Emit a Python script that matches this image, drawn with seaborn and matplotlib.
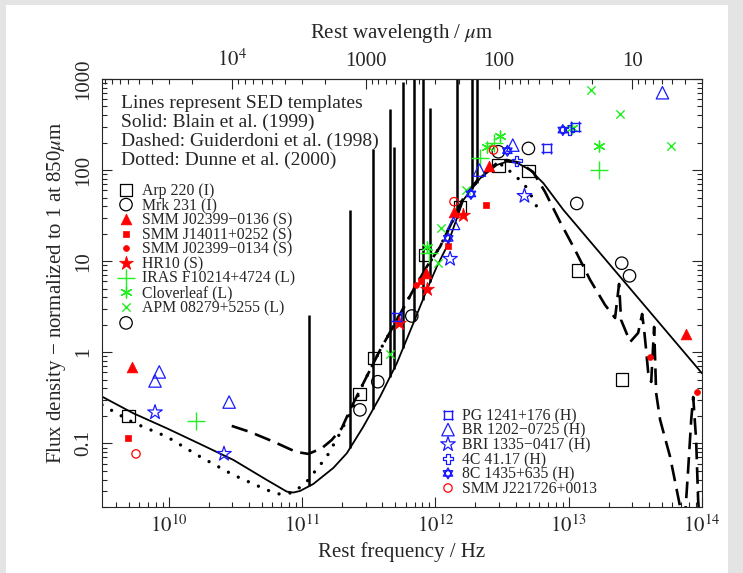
import numpy as np
import pandas as pd
import matplotlib
matplotlib.use("Agg")
import matplotlib.pyplot as plt
from matplotlib.path import Path
from matplotlib.patches import Rectangle
from matplotlib.ticker import FixedLocator, FuncFormatter, LogLocator, NullFormatter
import seaborn as sns

sns.set_style("ticks")
plt.rcParams["font.family"] = ["Liberation Serif", "DejaVu Serif"]
plt.rcParams["mathtext.fontset"] = "stix"

# ---------------------------------------------------------------- templates
# log10(rest frequency / Hz) and log10(normalised flux density)
solid_lognu = [9.500, 9.735, 9.985, 10.235, 10.485, 10.736, 10.886, 10.935, 10.985,
               11.085, 11.235, 11.336, 11.460, 11.586, 11.711, 11.835, 11.936,
               12.011, 12.086, 12.210, 12.336, 12.461, 12.536, 12.611, 12.711,
               12.811, 12.961, 14.000]
solid_logflux = [-0.487, -0.670, -0.834, -1.007, -1.182, -1.402, -1.530, -1.540, -1.523,
                 -1.446, -1.270, -1.109, -0.817, -0.487, -0.121, 0.318, 0.684,
                 0.940, 1.159, 1.672, 1.910, 2.056, 2.092, 2.081, 2.001,
                 1.855, 1.562, -0.231]

# emission lines on the solid template: position, foot and peak
line_lognu = [11.055, 11.360, 11.535, 11.661, 11.691, 11.760, 11.841, 11.906,
              11.961, 12.161, 12.274, 12.311]
line_logbase = [-1.469, -1.052, -0.621, -0.267, -0.180, 0.052, 0.340, 0.575,
                0.769, 1.469, 1.793, 1.863]
line_logpeak = [0.409, 1.562, 2.228, 2.667, 2.248, 2.967, 3.3, 3.3,
                2.687, 3.3, 3.3, 3.3]

dashed_lognu = [10.473, 10.610, 10.785, 10.955, 11.048, 11.148, 11.223, 11.298,
                11.360, 11.460, 11.586, 11.711, 11.835, 11.936, 12.036, 12.210,
                12.336, 12.461, 12.536, 12.636, 12.733, 12.823, 12.936, 13.048,
                13.161, 13.273, 13.348, 13.378, 13.393, 13.461, 13.521, 13.551,
                13.566, 13.581, 13.596, 13.619, 13.641, 13.656, 13.686, 13.761,
                13.836, 13.866, 13.896, 13.919, 13.934, 13.956, 13.971, 13.986]
dashed_logflux = [-0.809, -0.875, -0.981, -1.094, -1.116, -1.054, -0.963, -0.834,
                  -0.633, -0.340, 0.025, 0.355, 0.684, 0.940, 1.159, 1.690,
                  1.928, 2.075, 2.111, 2.078, 1.979, 1.760, 1.430, 1.123,
                  0.794, 0.519, 0.376, 0.750, 0.355, 0.113, 0.212, 0.420,
                  0.245, 0.025, -0.216, -0.326, 0.278, -0.447, -0.743, -1.149,
                  -1.698, -1.951, -1.292, -0.743, -0.491, -0.963, -1.621, -1.951]

dotted_lognu = [9.500, 9.735, 9.985, 10.235, 10.485, 10.736, 10.835, 10.935, 11.036,
                11.186, 11.285, 11.385, 11.460, 11.586, 11.711, 11.835, 11.936,
                12.036, 12.210, 12.336, 12.461, 12.511, 12.574, 12.649, 12.698,
                12.736, 12.773]
dotted_logflux = [-0.578, -0.773, -0.926, -1.146, -1.347, -1.512, -1.559, -1.541, -1.420,
                  -1.146, -0.889, -0.597, -0.340, 0.025, 0.355, 0.684, 0.940,
                  1.159, 1.690, 1.913, 2.045, 2.060, 1.965, 1.873, 1.782,
                  1.672, 1.562]

# ---------------------------------------------------------------- photometry
arp220_nu = [4.98e9, 2.69e11, 3.49e11, 8.38e11, 1.53e12, 2.97e12, 4.99e12, 1.18e13, 2.5e13]
arp220_f = [0.20, 0.35, 0.86, 11.7, 39, 112, 98, 7.9, 0.50]
mrk231_nu = [4.79e9, 2.72e11, 3.70e11, 6.66e11, 2.97e12, 4.99e12, 1.15e13, 2.5e13, 2.86e13]
mrk231_f = [2.1, 0.233, 0.475, 2.5, 159, 173, 43, 9.5, 6.9]
smm0136_nu = [5.28e9, 8.48e11, 1.37e12, 2.53e12, 7.6e13]
smm0136_f = [0.695, 7.5, 35, 111, 1.58]
smm14011_nu = [4.98e9, 7.82e11, 1.24e12, 2.39e12]
smm14011_f = [0.114, 6.06, 14.7, 41.4]
smm0134_nu = [7.17e11, 4.08e13, 9.15e13]
smm0134_f = [5.48, 0.895, 0.369]
hr10_nu = [5.37e11, 8.63e11, 1.62e12]
hr10_f = [2.11, 4.92, 32]
iras_nu = [1.6e10, 9.02e11, 2.17e12, 2.76e12, 1.70e13]
iras_f = [0.176, 12.2, 135, 197, 100]
clover_nu = [8.63e11, 2.46e12, 3.06e12, 1.06e13, 1.70e13]
clover_f = [14.4, 181, 234, 288, 184]
apm_nu = [4.58e11, 1.04e12, 1.10e12, 1.69e12, 1.47e13, 2.44e13, 5.87e13]
apm_f = [0.95, 9.5, 23, 60, 757, 410, 184]
pg_nu = [5.14e11, 6.86e12, 1.12e13]
pg_f = [2.46, 173, 299]
br_nu = [7.9e9, 8.5e9, 2.84e10, 1.37e12, 2.14e12, 3.81e12, 5.05e13]
br_f = [0.484, 0.608, 0.284, 26, 100, 188, 707]
bri_nu = [7.9e9, 2.6e10, 1.29e12, 4.66e12]
bri_f = [0.219, 0.0766, 10.6, 52]
c4_nu = [4.08e12, 1.01e13]
c4_f = [127, 275]
c8_nu = [1.25e12, 1.85e12, 3.47e12, 9.04e12]
c8_f = [17.8, 54.7, 163, 275]
smm2217_nu = [5.69e9, 1.38e12, 2.73e12]
smm2217_f = [0.0766, 45, 166]

header_lines = ["Lines represent SED templates", "Solid: Blain et al. (1999)",
                "Dashed: Guiderdoni et al. (1998)", "Dotted: Dunne et al. (2000)"]

# ---------------------------------------------------------------- markers
pg_marker = Path([(-1.35, 1), (1.35, 1), (-1.35, -1), (1.35, -1),
                  (-1, 1.35), (-1, -1.35), (1, 1.35), (1, -1.35)],
                 [Path.MOVETO, Path.LINETO] * 4)
s3 = np.sqrt(3) / 2
hexagram = Path([(0, 1), (-s3, -0.5), (s3, -0.5), (0, 1),
                 (0, -1), (-s3, 0.5), (s3, 0.5), (0, -1)],
                [Path.MOVETO, Path.LINETO, Path.LINETO, Path.CLOSEPOLY] * 2)

RED, GREEN, BLUE = "#ff0000", "#22ee22", "#1a1aff"

sources = [
    # label, nu, flux, marker, size, face, edge, lw, key column
    ("Arp 220 (I)", arp220_nu, arp220_f, "s", 80, "none", "black", 0.9, 0),
    ("Mrk 231 (I)", mrk231_nu, mrk231_f, "o", 80, "none", "black", 0.9, 0),
    ("SMM J02399\u22120136 (S)", smm0136_nu, smm0136_f, "^", 60, RED, RED, 0.5, 0),
    ("SMM J14011+0252 (S)", smm14011_nu, smm14011_f, "s", 24, RED, RED, 0.5, 0),
    ("SMM J02399\u22120134 (S)", smm0134_nu, smm0134_f, "o", 18, RED, RED, 0.5, 0),
    ("HR10 (S)", hr10_nu, hr10_f, "*", 110, RED, RED, 0.5, 0),
    ("IRAS F10214+4724 (L)", iras_nu, iras_f, "+", 150, GREEN, None, 1.0, 0),
    ("Cloverleaf (L)", clover_nu, clover_f, (6, 2, 0), 60, GREEN, None, 1.0, 0),
    ("APM 08279+5255 (L)", apm_nu, apm_f, "x", 36, GREEN, None, 1.0, 0),
    ("PG 1241+176 (H)", pg_nu, pg_f, pg_marker, 60, "none", BLUE, 1.0, 1),
    ("BR 1202\u22120725 (H)", br_nu, br_f, "^", 80, "none", BLUE, 0.9, 1),
    ("BRI 1335\u22120417 (H)", bri_nu, bri_f, "*", 120, "none", BLUE, 0.9, 1),
    ("4C 41.17 (H)", c4_nu, c4_f, "P", 50, "none", BLUE, 0.9, 1),
    ("8C 1435+635 (H)", c8_nu, c8_f, hexagram, 60, "none", BLUE, 1.0, 1),
    ("SMM J221726+0013", smm2217_nu, smm2217_f, "o", 36, "none", RED, 0.9, 1),
]

# ---------------------------------------------------------------- figure
W, H = 743, 573
AX_L, AX_R, AX_T, AX_B = 102, 702, 79, 507   # axes box in pixels from top-left
fig = plt.figure(figsize=(W / 100, H / 100), dpi=100)
fig.patch.set_facecolor("#e4e4e4")
fig.add_artist(Rectangle((6 / W, 0), (728 - 6) / W, 1 - 5 / H,
                         transform=fig.transFigure, facecolor="white",
                         edgecolor="none", zorder=-5))
ax = fig.add_axes([AX_L / W, 1 - AX_B / H, (AX_R - AX_L) / W, (AX_B - AX_T) / H])
ax.set_xscale("log")
ax.set_yscale("log")
ax.set_xlim(10 ** 9.5, 1e14)
ax.set_ylim(0.02, 1000)


def tpl_frame(lognu, logf):
    return pd.DataFrame({"nu": np.power(10.0, lognu), "flux": np.power(10.0, logf)})


sns.lineplot(data=tpl_frame(solid_lognu, solid_logflux), x="nu", y="flux",
             sort=False, estimator=None, color="black", linewidth=1.3, ax=ax)
ax.vlines(np.power(10.0, line_lognu), np.power(10.0, line_logbase),
          np.power(10.0, line_logpeak), color="black", linewidth=1.8)
sns.lineplot(data=tpl_frame(dashed_lognu, dashed_logflux), x="nu", y="flux",
             sort=False, estimator=None, color="black", linewidth=1.9,
             linestyle=(0, (6.3, 3.0)), ax=ax)
sns.lineplot(data=tpl_frame(dotted_lognu, dotted_logflux), x="nu", y="flux",
             sort=False, estimator=None, color="black", linewidth=2.4,
             linestyle=(0, (0.01, 3.3)), ax=ax)
ax.lines[-1].set_dash_capstyle("round")

for label, nu, fl, mk, sz, face, edge, lw, col in sources:
    kw = dict(marker=mk, s=sz, linewidth=lw, zorder=5)
    if edge is None:
        kw["color"] = face
    else:
        kw["facecolor"] = face
        kw["edgecolor"] = edge
    sns.scatterplot(x=nu, y=fl, ax=ax, legend=False, **kw)


# ---------------------------------------------------------------- key
def ax_frac(x_px, y_px):
    return (x_px - AX_L) / (AX_R - AX_L), (AX_B - y_px) / (AX_B - AX_T)


def key_line(text, x_px, centre_px, fontsize):
    em = fontsize * 100 / 72
    fx, fy = ax_frac(x_px, centre_px + 0.33 * em)
    ax.text(fx, fy, text, transform=ax.transAxes, fontsize=fontsize,
            ha="left", va="baseline")


for i, t in enumerate(header_lines):
    key_line(t, 121, 102 + i * 18.7, 14)

key_cols = {0: (126, 142, 190), 1: (448, 462, 415)}
KEY_FS = 11.3
for col, (mx, tx, y0) in key_cols.items():
    items = [s for s in sources if s[-1] == col]
    for j, (label, nu, fl, mk, sz, face, edge, lw, _) in enumerate(items):
        yc = y0 + j * 14.6
        kw = dict(marker=mk, s=sz, linewidths=lw, transform=ax.transAxes,
                  clip_on=False, zorder=6)
        if edge is None:
            kw["color"] = face
        else:
            kw["facecolor"] = face
            kw["edgecolor"] = edge
        fx, fy = ax_frac(mx, yc)
        ax.scatter([fx], [fy], **kw)
        key_line(label, tx, yc, KEY_FS)

# ---------------------------------------------------------------- axes
ax.set_xlabel("Rest frequency / Hz", fontsize=15, labelpad=4)
ax.set_ylabel("Flux density \u2212 normalized to 1 at 850$\\mu$m", fontsize=15, labelpad=5)

ax.xaxis.set_major_locator(FixedLocator([1e10, 1e11, 1e12, 1e13, 1e14]))
ax.xaxis.set_major_formatter(FuncFormatter(lambda v, p: "$10^{%d}$" % round(np.log10(v))))
ax.xaxis.set_minor_locator(LogLocator(base=10, subs=np.arange(2, 10)))
ax.xaxis.set_minor_formatter(NullFormatter())
ytick_vals = [0.1, 1, 10, 100, 1000]
ytick_text = ["0.1", "1", "10", "100", "1000"]
ax.yaxis.set_major_locator(FixedLocator(ytick_vals))
ax.yaxis.set_major_formatter(FuncFormatter(
    lambda v, p: ytick_text[p] if p is not None and p < len(ytick_text) else ""))
ax.yaxis.set_minor_locator(LogLocator(base=10, subs=np.arange(2, 10)))
ax.yaxis.set_minor_formatter(NullFormatter())
for lab in ax.get_yticklabels():
    lab.set_rotation(90)
    lab.set_va("center")
ax.tick_params(which="both", direction="in", top=False, right=True, width=0.8,
               labelsize=15)
ax.tick_params(which="major", length=7.5)
ax.tick_params(which="minor", length=3.8)
ax.tick_params(axis="y", pad=6)
ax.tick_params(axis="x", pad=6)
for sp in ax.spines.values():
    sp.set_linewidth(0.8)

c_um = 2.998e14
sec = ax.secondary_xaxis("top", functions=(lambda v: c_um / v, lambda v: c_um / v))
sec.xaxis.set_major_locator(FixedLocator([1e4, 1e3, 1e2, 1e1]))
top_text = {4: "$10^4$", 3: "1000", 2: "100", 1: "10"}
sec.xaxis.set_major_formatter(FuncFormatter(lambda v, p: top_text.get(int(round(np.log10(v))), "")))
sec.xaxis.set_minor_locator(LogLocator(base=10, subs=np.arange(2, 10)))
sec.xaxis.set_minor_formatter(NullFormatter())
sec.tick_params(which="both", direction="in", width=0.8, labelsize=15, pad=6)
sec.tick_params(which="major", length=7.5)
sec.tick_params(which="minor", length=3.8)
sec.spines["top"].set_linewidth(0.8)
sec.set_xlabel("Rest wavelength / $\\mu$m", fontsize=15, labelpad=8)

fig.savefig("out.png", dpi=100, facecolor=fig.get_facecolor())
